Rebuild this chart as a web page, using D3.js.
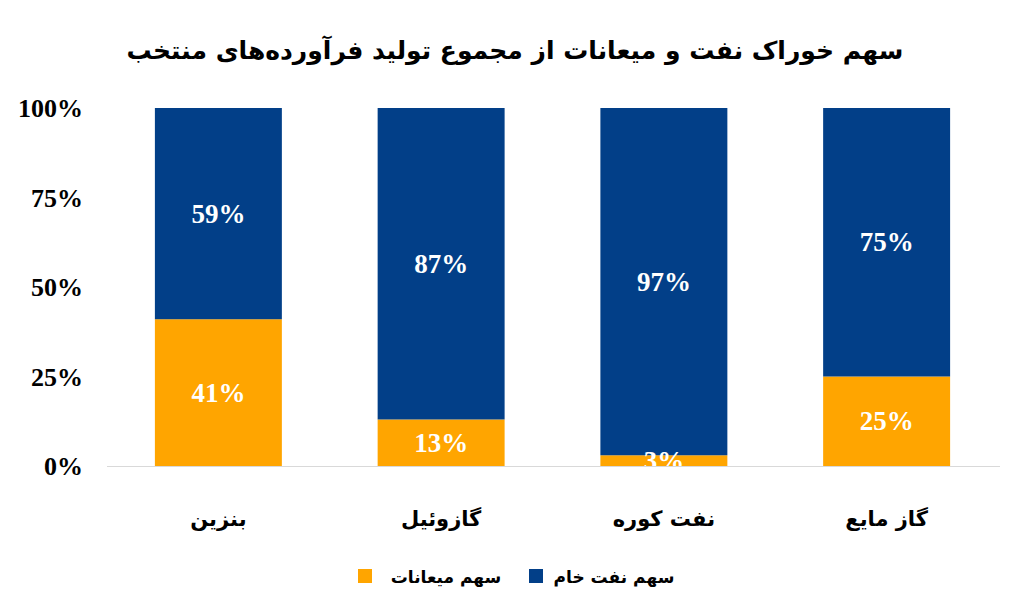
<!DOCTYPE html>
<html><head><meta charset="utf-8">
<script src="https://cdn.jsdelivr.net/npm/d3@7"></script>
<style>body{margin:0;background:#fff}svg{display:block}</style>
</head><body><div id="chart"></div>
<script>
const categories = ["بنزین", "گازوئیل", "نفت کوره", "گاز مایع"];
const condensateShare = [41, 13, 3, 25];
const crudeShare = [59, 87, 97, 75];
const seriesNames = ["سهم میعانات", "سهم نفت خام"];
const yTicks = [0, 25, 50, 75, 100];
const title = "سهم خوراک نفت و میعانات از مجموع تولید فرآورده‌های منتخب";

const W = 1024, H = 614;
const colors = ["#FFA500", "#023F88"];
const svg = d3.select("#chart").append("svg").attr("width", W).attr("height", H);

const x = d3.scaleBand().domain(categories).range([107, 998]).paddingInner(0.43).paddingOuter(0.215);
const y = d3.scaleLinear().domain([0, 100]).range([466, 108]);

svg.append("defs").append("clipPath").attr("id", "plotclip")
  .append("rect").attr("x", 0).attr("y", 0).attr("width", W).attr("height", 466);

svg.append("text").attr("x", 515).attr("y", 59).attr("text-anchor", "middle")
  .attr("font-family", "DejaVu Sans, sans-serif").attr("font-weight", "bold").attr("font-size", 25)
  .attr("fill", "#000").text(title);

const data = categories.map((c, i) => ({cat: c, vals: [condensateShare[i], crudeShare[i]]}));
const stack = [];
data.forEach(d => {
  let acc = 0;
  d.vals.forEach((v, k) => { stack.push({cat: d.cat, k, y0: acc, y1: acc + v, v}); acc += v; });
});

svg.append("g").selectAll("rect").data(stack).join("rect")
  .attr("x", d => x(d.cat)).attr("width", x.bandwidth())
  .attr("y", d => y(d.y1)).attr("height", d => y(d.y0) - y(d.y1))
  .attr("fill", d => colors[d.k]);

svg.append("line").attr("x1", 107).attr("x2", 1000).attr("y1", 466.5).attr("y2", 466.5)
  .attr("stroke", "#d9d9d9").attr("stroke-width", 1);

svg.append("g").attr("clip-path", "url(#plotclip)").selectAll("text").data(stack).join("text")
  .attr("x", d => x(d.cat) + x.bandwidth() / 2)
  .attr("y", d => y((d.y0 + d.y1) / 2) + 9)
  .attr("text-anchor", "middle").attr("fill", "#fff")
  .attr("font-family", "Liberation Serif, Times New Roman, serif").attr("font-weight", "bold").attr("font-size", 27)
  .text(d => d.v + "%");

svg.append("g").selectAll("text").data(yTicks).join("text")
  .attr("x", 83).attr("y", d => y(d) + 9).attr("text-anchor", "end")
  .attr("font-family", "Liberation Serif, Times New Roman, serif").attr("font-weight", "bold").attr("font-size", 26)
  .attr("fill", "#000").text(d => d + "%");

svg.append("g").selectAll("text").data(categories).join("text")
  .attr("x", d => x(d) + x.bandwidth() / 2).attr("y", 526).attr("text-anchor", "middle")
  .attr("font-family", "DejaVu Sans, sans-serif").attr("font-weight", "bold").attr("font-size", 21)
  .attr("fill", "#000").text(d => d);

const legendX = [358, 529];
const legendTextMid = [446, 614];
seriesNames.forEach((n, k) => {
  svg.append("rect").attr("x", legendX[k]).attr("y", 569).attr("width", 14).attr("height", 14).attr("fill", colors[k]);
  svg.append("text").attr("x", legendTextMid[k]).attr("y", 583).attr("text-anchor", "middle")
    .attr("font-family", "DejaVu Sans, sans-serif").attr("font-weight", "bold").attr("font-size", 17)
    .attr("fill", "#000").text(n);
});
</script></body></html>
